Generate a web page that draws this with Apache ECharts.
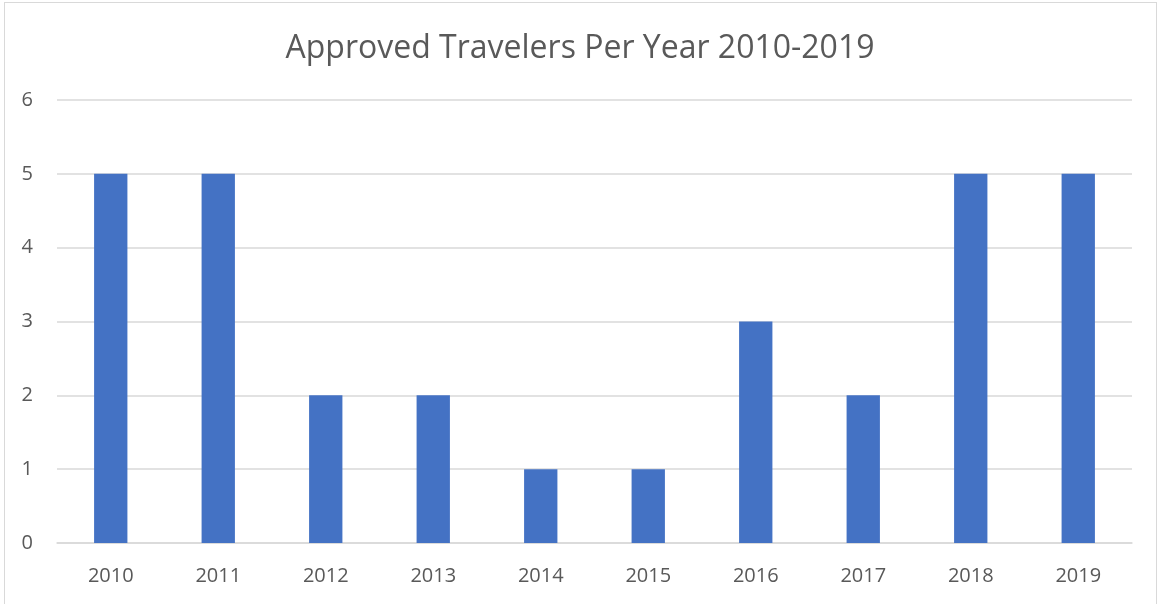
<!DOCTYPE html>
<html>
<head>
<meta charset="utf-8">
<script src="https://cdn.jsdelivr.net/npm/echarts@6/dist/echarts.min.js"></script>
<style>
html, body { margin: 0; padding: 0; background: #fff; }
#frame { position: absolute; left: 4px; top: 2px; width: 1153px; height: 610px; border: 1px solid #d9d9d9; box-sizing: border-box; }
#chart { position: absolute; left: 0; top: 0; width: 1160px; height: 604px; }
</style>
</head>
<body>
<div id="frame"></div>
<div id="chart"></div>
<script>
var years = ['2010', '2011', '2012', '2013', '2014', '2015', '2016', '2017', '2018', '2019'];
var travelers = [5, 5, 2, 2, 1, 1, 3, 2, 5, 5];
var yTicks = [0, 1, 2, 3, 4, 5, 6];

var myChart = echarts.init(document.getElementById('chart'));
var option = {
    animation: false,
    title: {
        text: 'Approved Travelers Per Year 2010-2019',
        left: 'center',
        top: 28,
        textStyle: {
            color: '#595959',
            fontSize: 32,
            fontWeight: 'normal',
            fontFamily: 'Open Sans'
        }
    },
    grid: {
        left: 57,
        right: 28,
        top: 100,
        bottom: 61,
        containLabel: false
    },
    xAxis: {
        type: 'category',
        data: years,
        axisLine: { lineStyle: { color: '#d9d9d9', width: 1.5 } },
        axisTick: { show: false },
        axisLabel: {
            color: '#595959',
            fontSize: 20,
            fontFamily: 'Open Sans',
            margin: 23
        }
    },
    yAxis: {
        type: 'value',
        min: yTicks[0],
        max: yTicks[yTicks.length - 1],
        interval: 1,
        axisLine: { show: false },
        axisTick: { show: false },
        splitLine: { lineStyle: { color: '#d9d9d9', width: 1.5 } },
        axisLabel: {
            color: '#595959',
            fontSize: 20,
            fontFamily: 'Open Sans',
            margin: 24
        }
    },
    series: [
        {
            type: 'bar',
            data: travelers,
            barWidth: '31%',
            itemStyle: { color: '#4472c4' }
        }
    ]
};
myChart.setOption(option);
</script>
</body>
</html>
